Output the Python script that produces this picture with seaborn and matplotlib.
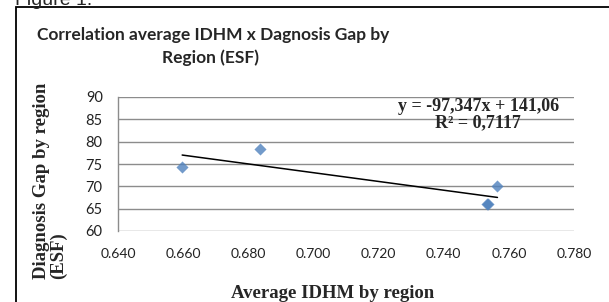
import numpy as np
import pandas as pd
import matplotlib
matplotlib.use("Agg")
import matplotlib.pyplot as plt
import seaborn as sns
from matplotlib.patches import Rectangle

# values (two regions sit almost on top of each other)
idhm = [0.6597, 0.6836, 0.7534, 0.7536, 0.7565]
gap = [74.3, 78.4, 66.0, 66.1, 70.0]
x_ticks = [0.640, 0.660, 0.680, 0.700, 0.720, 0.740, 0.760, 0.780]
y_ticks = [60, 65, 70, 75, 80, 85, 90]
eq_text = "y = -97,347x + 141,06\nR² = 0,7117"

df = pd.DataFrame({"idhm": idhm, "gap": gap})

sns.set_style("white")
plt.rcParams["font.family"] = ["Lato", "DejaVu Sans"]

fig = plt.figure(figsize=(6.09, 3.02), dpi=100)
ax = fig.add_axes([118 / 609, 1 - 231 / 302, (574 - 118) / 609, (231 - 97) / 302])

sns.regplot(data=df, x="idhm", y="gap", ax=ax, ci=None, truncate=True,
            marker="D", scatter_kws={"s": 38, "color": "#4F81BD", "zorder": 3,
                                     "linewidths": 0},
            line_kws={"color": "black", "lw": 1.1, "zorder": 2})

ax.set_xlim(0.640, 0.780)
ax.set_ylim(60, 90)
ax.set_xticks(x_ticks)
ax.set_xticklabels([f"{v:.3f}" for v in x_ticks])
ax.set_yticks(y_ticks)
ax.yaxis.grid(True, color="#8c8c8c", lw=1)
ax.tick_params(axis="both", length=0, labelsize=10, colors="#222222")
ax.tick_params(axis="y", labelsize=10.5, pad=11)
ax.tick_params(axis="x", pad=12)
for s in ["top", "right", "bottom"]:
    ax.spines[s].set_visible(False)
ax.spines["left"].set_color("#8c8c8c")
ax.spines["left"].set_linewidth(1)
ax.set_xlabel("")
ax.set_ylabel("")

ax.text(0.79, 0.995, eq_text, transform=ax.transAxes, ha="center", va="top",
        family="Liberation Serif", fontweight="bold", fontsize=13, linespacing=1.0)

# titles and labels
fig.text(213 / 609, 1 - 40 / 302, "Correlation average IDHM x Dagnosis Gap by",
         ha="center", va="baseline", fontsize=12.5, fontweight="bold")
fig.text(210 / 609, 1 - 63 / 302, "Region (ESF)",
         ha="center", va="baseline", fontsize=12.5, fontweight="bold")
fig.text(333 / 609, 1 - 298 / 302, "Average IDHM by region", ha="center",
         va="baseline", family="Liberation Serif", fontweight="bold", fontsize=13.5)
fig.text(50 / 609, 1 - 279 / 302, "Diagnosis Gap by region\n(ESF)", rotation=90,
         ha="center", va="bottom", multialignment="left",
         family="Liberation Serif", fontweight="bold", fontsize=13.5, linespacing=1.0)

# outer frame and clipped caption
fig.patches.append(Rectangle((15.5 / 609, -0.1), 1.2, 1 - 7.5 / 302 + 0.1,
                             transform=fig.transFigure, fill=False,
                             edgecolor="black", lw=1.3))
fig.text(15 / 609, 1 - 5 / 302, "Figure 1.", ha="left", va="baseline",
         family="Liberation Sans", fontsize=14)

fig.savefig("out.png", dpi=100)
plt.close(fig)
